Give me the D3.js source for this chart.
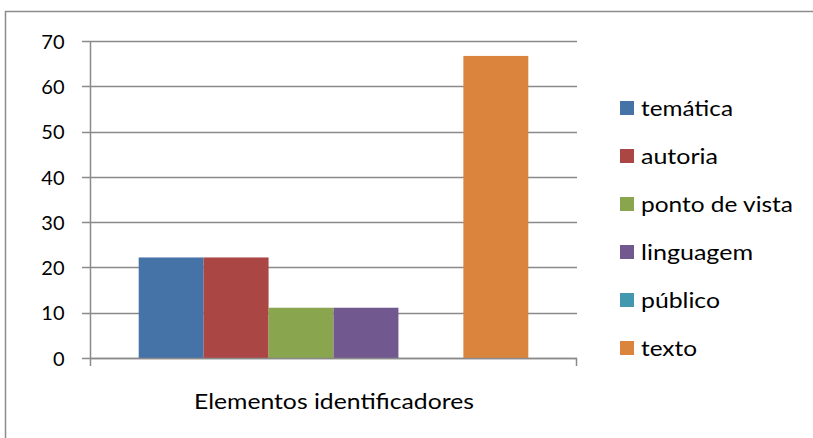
<!DOCTYPE html>
<html><head><meta charset="utf-8">
<script src="https://cdn.jsdelivr.net/npm/d3@7"></script>
<style>body{margin:0;background:#fff}svg{display:block}text{font-family:Lato,"Open Sans",sans-serif}</style>
</head><body><svg id="c" width="813" height="438"></svg>
<script>
const categories = ["Elementos identificadores"];
const seriesNames = ["temática","autoria","ponto de vista","linguagem","público","texto"];
const seriesValues = [22.2, 22.2, 11.1, 11.1, 0, 66.7];
const seriesColors = ["#4572A7","#AA4643","#89A54E","#71588F","#4198AF","#DB843D"];
const yTicks = [0,10,20,30,40,50,60,70];
const legendWidths = [92, 77, 152, 112, 79, 56];

const svg = d3.select("#c");
// outer chart border (cropped)
svg.append("path").attr("d","M5.5,438 L5.5,11.5 L813,11.5").attr("fill","none").attr("stroke","#8c8c8c").attr("stroke-width",1.5);

const L=90,R=577,T=41,B=358;
const y = d3.scaleLinear().domain([0,70]).range([B,T]);
const x0 = d3.scaleBand().domain(categories).range([L,R]).paddingInner(0).paddingOuter(0);
const inner = x0.bandwidth()/(seriesNames.length+1.5);
const x1 = d3.scaleBand().domain(seriesNames).range([x0(categories[0])+inner*0.75, x0(categories[0])+x0.bandwidth()-inner*0.75]);

// gridlines
svg.append("g").selectAll("line").data(yTicks).join("line")
 .attr("x1",L-8).attr("x2",R).attr("y1",d=>Math.round(y(d))+0.5).attr("y2",d=>Math.round(y(d))+0.5)
 .attr("stroke","#8a8a8a").attr("stroke-width",1.5);

// bars
svg.append("g").selectAll("rect").data(seriesNames.map((n,i)=>({n,v:seriesValues[i],c:seriesColors[i]}))).join("rect")
 .attr("x",d=>x1(d.n)).attr("width",x1.bandwidth()).attr("y",d=>y(d.v)).attr("height",d=>B-y(d.v)).attr("fill",d=>d.c);

// y axis
const ya = svg.append("g").attr("transform",`translate(${L+0.5},0)`).call(d3.axisLeft(y).tickValues(yTicks).tickSize(0).tickPadding(0));
ya.select(".domain").remove();
ya.selectAll("text").attr("x",64-L).attr("text-anchor","end").attr("font-size",20).attr("font-family","Lato,'Open Sans',sans-serif").attr("fill","#000").attr("dy","0.36em");
svg.append("line").attr("x1",L+0.5).attr("x2",L+0.5).attr("y1",T).attr("y2",B+8).attr("stroke","#8a8a8a").attr("stroke-width",1.5);
// x axis
svg.append("line").attr("x1",L).attr("x2",R).attr("y1",B+0.5).attr("y2",B+0.5).attr("stroke","#8a8a8a").attr("stroke-width",1.5);
svg.append("line").attr("x1",R-0.5).attr("x2",R-0.5).attr("y1",B).attr("y2",B+8).attr("stroke","#8a8a8a").attr("stroke-width",1.5);
svg.append("text").attr("x",194).attr("y",409).attr("font-size",22).attr("fill","#000")
 .attr("textLength",280).attr("lengthAdjust","spacingAndGlyphs").text(categories[0]);

// legend
const lg = svg.append("g").selectAll("g").data(seriesNames).join("g").attr("transform",(d,i)=>`translate(620,${108+i*48})`);
lg.append("rect").attr("x",0).attr("y",-7).attr("width",14).attr("height",14).attr("fill",(d,i)=>seriesColors[i]);
lg.append("text").attr("x",21).attr("y",8).attr("font-size",21).attr("fill","#000")
 .attr("textLength",(d,i)=>legendWidths[i]).attr("lengthAdjust","spacingAndGlyphs").text(d=>d);
</script></body></html>
